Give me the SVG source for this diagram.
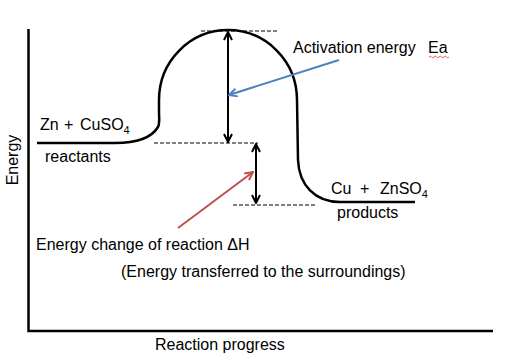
<svg xmlns="http://www.w3.org/2000/svg" width="523" height="361" viewBox="0 0 523 361">
<style>
text{font-family:"Liberation Sans",Arial,sans-serif;font-size:16px;fill:#000}
.sub{font-size:11px}
.axis{stroke:#000;stroke-width:2.5;fill:none}
.curve{stroke:#000;stroke-width:2.5;fill:none}
.dash{stroke:#000;stroke-width:1.2;stroke-dasharray:4,2;fill:none}
.dbl{stroke:#000;stroke-width:2;fill:none;marker-start:url(#ak);marker-end:url(#ak)}
.blue{stroke:#4f81bd;stroke-width:2;fill:none;marker-end:url(#ab)}
.red{stroke:#c0504d;stroke-width:2;fill:none;marker-end:url(#ar)}
</style>
<defs>
<marker id="ak" viewBox="0 0 10 10" refX="9" refY="5" markerWidth="10" markerHeight="10" markerUnits="userSpaceOnUse" orient="auto-start-reverse"><path d="M1,1 L9,5 L1,9" fill="none" stroke="#000" stroke-width="2"/></marker>
<marker id="ab" viewBox="0 0 10 10" refX="9" refY="5" markerWidth="10" markerHeight="10" markerUnits="userSpaceOnUse" orient="auto"><path d="M1,1 L9,5 L1,9" fill="none" stroke="#4f81bd" stroke-width="2"/></marker>
<marker id="ar" viewBox="0 0 10 10" refX="9" refY="5" markerWidth="10" markerHeight="10" markerUnits="userSpaceOnUse" orient="auto"><path d="M1,1 L9,5 L1,9" fill="none" stroke="#c0504d" stroke-width="2"/></marker>
</defs>
<rect width="523" height="361" fill="#fff"/>
<g id="axes">
<path class="axis" d="M28.5,29 L28.5,331 L493,331"/>
<text transform="translate(18,160) rotate(-90)" text-anchor="middle">Energy</text>
<text x="155" y="350">Reaction progress</text>
</g>
<g id="profile">
<path class="curve" d="M37,143 L115,143 C138,143 152,137 158,127 C160,123 159,118 159,112 L159,100 A69,70 0 0 1 297,100 L298,160 C299,185 315,202 340,202 L415,202"/>
</g>
<g id="reactants">
<text y="130"><tspan x="40">Zn</tspan><tspan x="64">+</tspan><tspan x="80">CuSO</tspan><tspan dy="4" class="sub">4</tspan></text>
<text x="45" y="162">reactants</text>
</g>
<g id="products">
<text y="194"><tspan x="331">Cu</tspan><tspan x="360">+</tspan><tspan x="380">ZnSO</tspan><tspan dy="4" class="sub">4</tspan></text>
<text x="337" y="218">products</text>
</g>
<g id="activation-label">
<text y="53"><tspan x="293">Activation energy</tspan><tspan x="428">Ea</tspan></text>
<path d="M429,57 q1.25,-1.6 2.5,0 t2.5,0 t2.5,0 t2.5,0 t2.5,0 t2.5,0 t2.5,0 t2.5,0" stroke="#e03030" stroke-width="0.8" fill="none"/>
</g>
<g id="enthalpy-label">
<text x="36" y="250">Energy change of reaction ΔH</text>
<text x="121" y="277">(Energy transferred to the surroundings)</text>
</g>
<g id="connectors">
<path class="dash" d="M201,31 H278 M154,143 H258 M233,205 H316"/>
<path class="dbl" d="M228,32 V142"/>
<path class="dbl" d="M256,144 V203"/>
<path class="blue" d="M339,60 L229,95"/>
<path class="red" d="M178,228 L253,172"/>
</g>
</svg>
